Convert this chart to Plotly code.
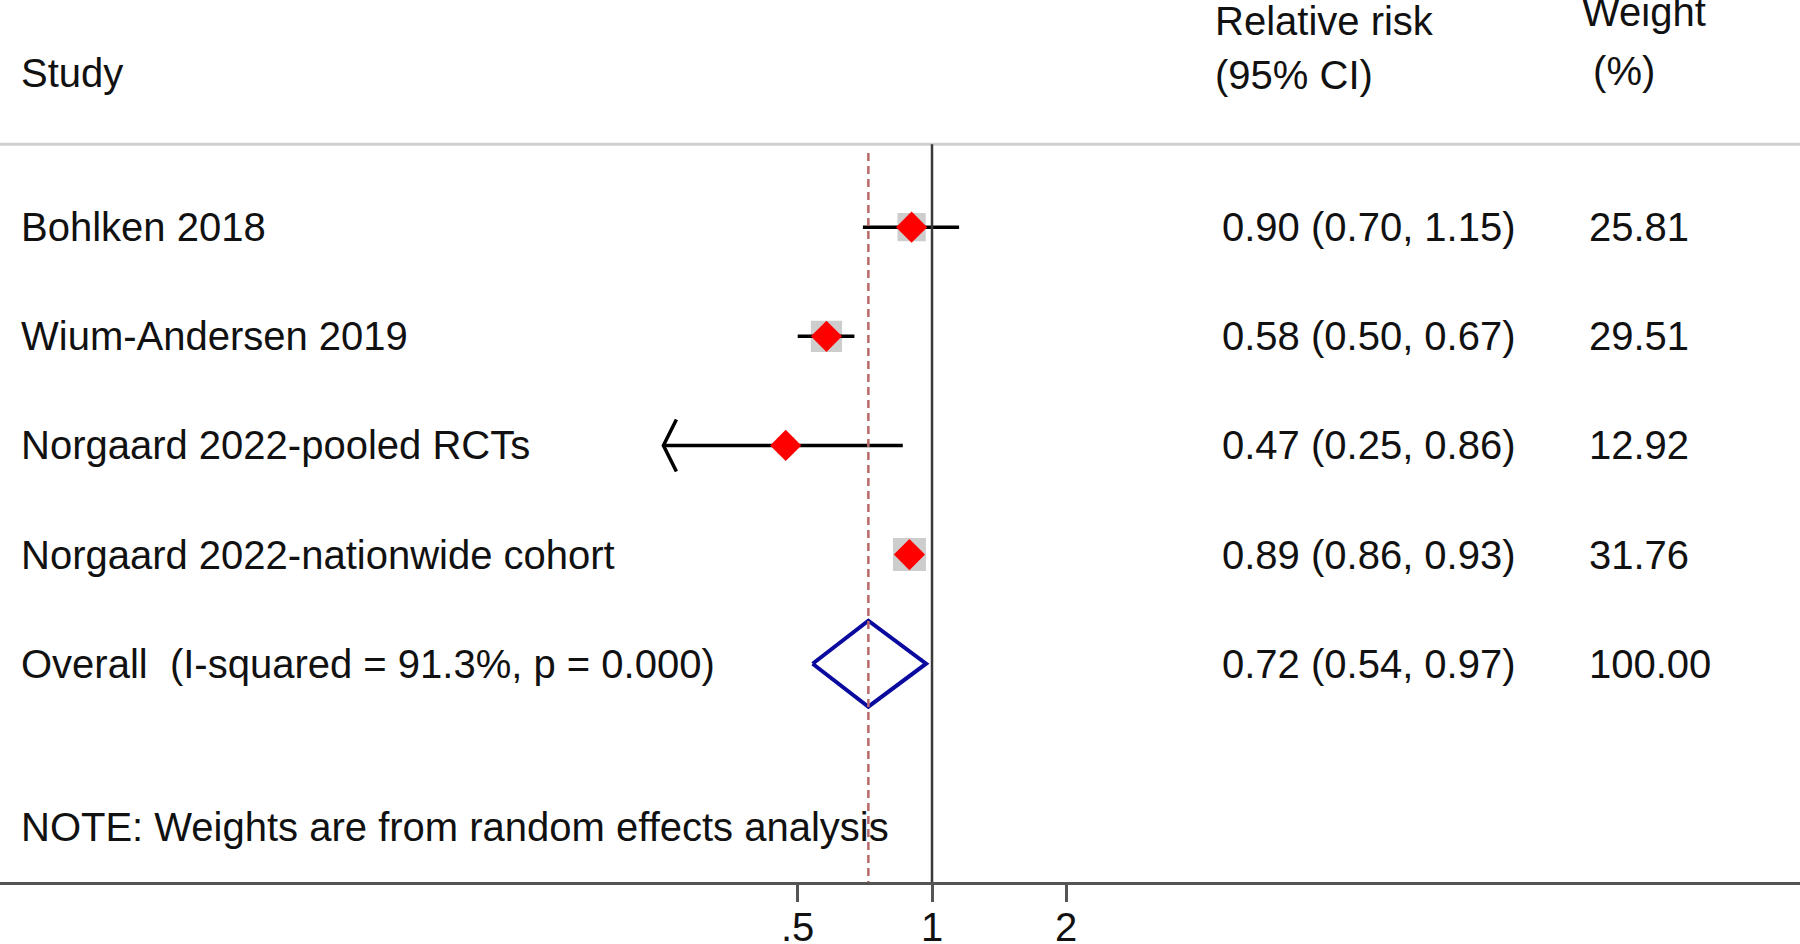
import numpy as np
import plotly.graph_objects as go

# ---------------- data ----------------
studies = ["Bohlken 2018", "Wium-Andersen 2019", "Norgaard 2022-pooled RCTs",
           "Norgaard 2022-nationwide cohort"]
rr = [0.90, 0.58, 0.47, 0.89]
ci_low = [0.70, 0.50, 0.25, 0.86]
ci_high = [1.15, 0.67, 0.86, 0.93]
weights = [25.81, 29.51, 12.92, 31.76]

overall_label = "Overall  (I-squared = 91.3%, p = 0.000)"
overall_rr = 0.72
overall_low = 0.54
overall_high = 0.97
overall_weight = 100.00

tick_vals = [0.5, 1, 2]
tick_text = [".5", "1", "2"]
note_text = "NOTE: Weights are from random effects analysis"

# ---------------- layout constants ----------------
W, H = 1800, 944
MB = 62
XR = [-2.0891, 1.9456]          # log10 range of the x axis (full width)
YR = [7.0, -1.081]              # row units, reversed
FONT = "Liberation Sans, Arial, Helvetica, sans-serif"
FS = 40

px_per_log10 = W / (XR[1] - XR[0])
px_per_row = (H - MB) / (YR[0] - YR[1])
plot_h = H - MB

rows = list(range(1, len(studies) + 1))
overall_row = len(studies) + 1

fig = go.Figure()

# grey weight boxes
max_w = max(weights)
box_sizes = [33 * (w / max_w) ** 0.75 for w in weights]
fig.add_trace(go.Scatter(
    x=rr, y=rows, mode="markers",
    marker=dict(symbol="square", size=box_sizes, color="#b8b8b8", line=dict(width=0)),
    hoverinfo="skip", showlegend=False))

# CI lines
cx, cy = [], []
for lo, hi, r in zip(ci_low, ci_high, rows):
    cx += [lo, hi, None]
    cy += [r, r, None]
fig.add_trace(go.Scatter(x=cx, y=cy, mode="lines",
                         line=dict(color="black", width=3.5),
                         hoverinfo="skip", showlegend=False))

# arrows for CIs extending below the smallest tick
ax_, ay_ = [], []
arm_dx = 10 ** (13 / px_per_log10)
arm_dy = 26 / px_per_row
for lo, r in zip(ci_low, rows):
    if lo < min(tick_vals):
        ax_ += [lo * arm_dx, lo, lo * arm_dx, None]
        ay_ += [r - arm_dy, r, r + arm_dy, None]
fig.add_trace(go.Scatter(x=ax_, y=ay_, mode="lines",
                         line=dict(color="black", width=3.5),
                         hoverinfo="skip", showlegend=False))

# point estimates
fig.add_trace(go.Scatter(
    x=rr, y=rows, mode="markers",
    marker=dict(symbol="diamond", size=24, color="#ff0000", line=dict(width=0)),
    hoverinfo="skip", showlegend=False))

# overall diamond
hh = 43 / px_per_row
fig.add_trace(go.Scatter(
    x=[overall_low, overall_rr, overall_high, overall_rr, overall_low],
    y=[overall_row, overall_row - hh, overall_row, overall_row + hh, overall_row],
    mode="lines", line=dict(color="#0a0a9e", width=4),
    hoverinfo="skip", showlegend=False))

# reference lines
header_line_y = 0.24
fig.add_shape(type="line", xref="paper", yref="y", x0=0, x1=1,
              y0=header_line_y, y1=header_line_y,
              line=dict(color="#cfcfcf", width=3))
fig.add_shape(type="line", xref="x", yref="y", x0=1, x1=1,
              y0=header_line_y, y1=YR[0],
              line=dict(color="#3a3a3a", width=2.5))
fig.add_shape(type="line", xref="x", yref="y", x0=overall_rr, x1=overall_rr,
              y0=0.32, y1=YR[0],
              line=dict(color="rgb(185,105,105)", width=2.5, dash="8px,5px"))

# ---------------- text ----------------
def txt(x_px, y, s, anchor="left"):
    fig.add_annotation(xref="paper", yref="y", x=x_px / W, y=y, text=s,
                       showarrow=False, xanchor=anchor, yanchor="middle",
                       font=dict(family=FONT, size=FS, color="#111111"))

# headers
txt(19, -0.41, "Study")
txt(1213, -0.888, "Relative risk")
txt(1213, -0.39, "(95% CI)")
txt(1580, -0.967, "Weight")
txt(1580, -0.435, " (%)")

for s, r, e, lo, hi, w in zip(studies, rows, rr, ci_low, ci_high, weights):
    txt(19, r, s)
    txt(1220, r, f"{e:.2f} ({lo:.2f}, {hi:.2f})")
    txt(1587, r, f"{w:.2f}")

txt(19, overall_row, overall_label)
txt(1220, overall_row, f"{overall_rr:.2f} ({overall_low:.2f}, {overall_high:.2f})")
txt(1587, overall_row, f"{overall_weight:.2f}")

txt(19, 6.5, note_text)

# x tick labels (as annotations so they sit where the reference puts them)
label_top_px = 903   # top of the label box, from the top of the figure
for v, t in zip(tick_vals, tick_text):
    fig.add_annotation(xref="x", yref="paper", x=np.log10(v),
                       y=(plot_h - label_top_px) / plot_h, text=t,
                       showarrow=False, xanchor="center", yanchor="top",
                       font=dict(family=FONT, size=FS, color="#111111"))

fig.update_layout(
    width=W, height=H, autosize=False,
    margin=dict(l=0, r=0, t=0, b=MB, pad=0),
    paper_bgcolor="white", plot_bgcolor="white",
    showlegend=False,
    xaxis=dict(type="log", range=XR, showgrid=False, zeroline=False,
               automargin=False,
               showline=True, linecolor="#555555", linewidth=3,
               ticks="outside", ticklen=17, tickwidth=3, tickcolor="#555555",
               tickvals=tick_vals, showticklabels=False,
               fixedrange=True),
    yaxis=dict(range=YR, showgrid=False, zeroline=False, showline=False,
               automargin=False,
               showticklabels=False, ticks="", fixedrange=True),
)

fig.write_html("out.html",
               config={"displayModeBar": False},
               post_script="document.body.style.margin='0px';"
                           "document.body.style.overflow='hidden';")
